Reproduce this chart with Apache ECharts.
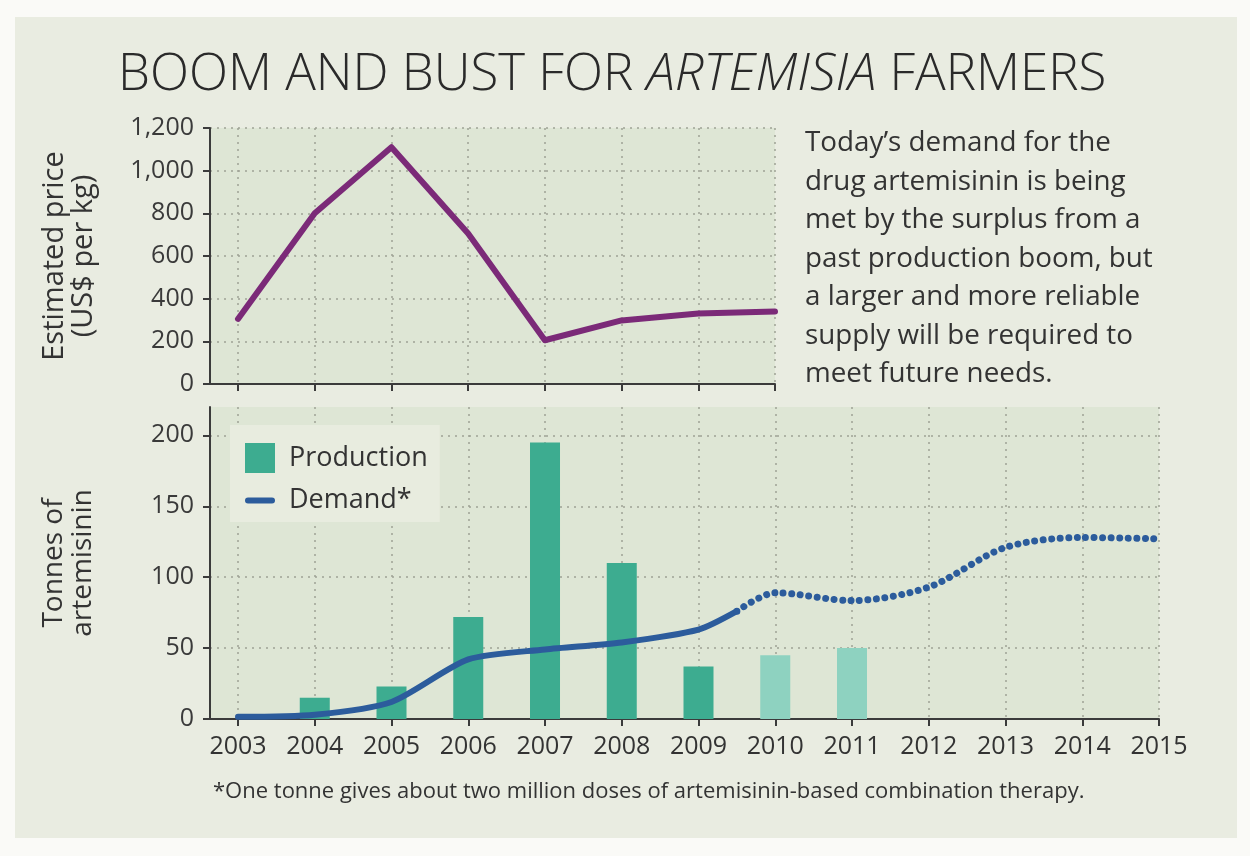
<!DOCTYPE html>
<html><head><meta charset="utf-8">
<script src="https://cdn.jsdelivr.net/npm/echarts@6/dist/echarts.min.js"></script>
<style>html,body{margin:0;padding:0;background:#fafaf7;} #c{width:1250px;height:856px;}</style>
</head><body><div id="c"></div>
<script>
// ---- data ----
const priceYears = [2003, 2004, 2005, 2006, 2007, 2008, 2009, 2010];
const priceValues = [305, 800, 1110, 705, 205, 298, 330, 340];

const productionYears = [2004, 2005, 2006, 2007, 2008, 2009, 2010, 2011];
const productionValues = [15, 23, 72, 195, 110, 37, 45, 50];
const productionEstimatedFrom = 2010;

const demandYears = [2003, 2004, 2005, 2006, 2007, 2008, 2009, 2010, 2011, 2012, 2013, 2014, 2015];
const demandValues = [1.5, 3, 12, 42, 49, 54, 63, 89, 83.5, 93, 121, 128, 127];
const demandForecastStart = [2009.5, 76];

const priceTicks = [0, 200, 400, 600, 800, 1000, 1200];
const tonneTicks = [0, 50, 100, 150, 200];
const topYearTicks = [2003, 2004, 2005, 2006, 2007, 2008, 2009, 2010];
const yearTicks = [2003, 2004, 2005, 2006, 2007, 2008, 2009, 2010, 2011, 2012, 2013, 2014, 2015];

const titleParts = ['BOOM AND BUST FOR ', 'ARTEMISIA', ' FARMERS'];
const noteText = "Today\u2019s demand for the\ndrug artemisinin is being\nmet by the surplus from a\npast production boom, but\na larger and more reliable\nsupply will be required to\nmeet future needs.";
const footnote = '*One tonne gives about two million doses of artemisinin-based combination therapy.';

// ---- styling ----
const FONT = "'Open Sans', 'Noto Sans', sans-serif";
const TXT = '#333333';
const AXIS = '#3b3b3b';
const GRIDC = '#9ea395';
const PLOTBG = '#dee6d5';
const PANEL = '#e9ece1';
const PURPLE = '#7b2a78';
const TEAL = '#3dac90';
const TEAL_LIGHT = '#8ed2c0';
const BLUE = '#2c5c9c';
const X_MIN = 2002.635;

const chart = echarts.init(document.getElementById('c'));

const splitDotted = { show: true, lineStyle: { color: GRIDC, width: 1.5, type: [2, 5] } };

const demandSolid = [];
const demandDotted = [demandForecastStart];
demandYears.forEach((y, i) => {
  if (y < demandForecastStart[0]) demandSolid.push([y, demandValues[i]]);
  else demandDotted.push([y, demandValues[i]]);
});
demandSolid.push(demandForecastStart);

const productionData = productionYears.map((y, i) => ({
  value: [y, productionValues[i]],
  itemStyle: { color: y >= productionEstimatedFrom ? TEAL_LIGHT : TEAL }
}));

chart.setOption({
  backgroundColor: '#fafaf7',
  animation: false,
  graphic: [
    { type: 'rect', left: 15, top: 17, shape: { width: 1222, height: 821 }, style: { fill: PANEL }, z: -10 },
    { type: 'text', left: 805, top: 124, style: { text: noteText, font: "400 27.8px " + FONT, fill: TXT, lineHeight: 38.5 } },
    { type: 'text', left: 213, top: 781, style: { text: footnote, font: "400 22px " + FONT, fill: TXT } }
  ],
  title: {
    left: 113, top: 45,
    text: '{a|' + titleParts[0] + '}{b|' + titleParts[1] + '}{a|' + titleParts[2] + '}',
    textStyle: {
      rich: {
        a: { fontFamily: FONT, fontSize: 51, fontWeight: 300, color: '#2a2a2a' },
        b: { fontFamily: FONT, fontSize: 51, fontWeight: 300, fontStyle: 'italic', color: '#2a2a2a' }
      }
    }
  },
  legend: {
    left: 230, top: 425, orient: 'vertical',
    backgroundColor: '#e8ecdf', padding: [18, 12, 8, 15],
    itemWidth: 30, itemHeight: 30, itemGap: 14,
    textStyle: { fontFamily: FONT, fontSize: 27, color: TXT, padding: [0, 0, 0, 9] },
    data: [
      { name: 'Production', icon: 'rect' },
      { name: 'Demand*', icon: 'path://M3,0 H27 A3,3 0 0 1 27,6 H3 A3,3 0 0 1 3,0 Z' }
    ]
  },
  grid: [
    { left: 210, top: 128, width: 565, height: 256, show: true, backgroundColor: PLOTBG, borderWidth: 0 },
    { left: 210, top: 407, width: 949, height: 312, show: true, backgroundColor: PLOTBG, borderWidth: 0 }
  ],
  xAxis: [
    {
      type: 'value', gridIndex: 0, min: X_MIN, max: 2010,
      axisLine: { lineStyle: { color: AXIS, width: 2 } },
      axisTick: { show: true, length: 7, customValues: topYearTicks, lineStyle: { color: AXIS, width: 2 } },
      axisLabel: { show: false, customValues: topYearTicks },
      splitLine: splitDotted
    },
    {
      type: 'value', gridIndex: 1, min: X_MIN, max: 2015,
      axisLine: { lineStyle: { color: AXIS, width: 2 } },
      axisTick: { show: true, length: 7, customValues: yearTicks, lineStyle: { color: AXIS, width: 2 } },
      axisLabel: { customValues: yearTicks, margin: 15, fontFamily: FONT, fontSize: 25, color: TXT, formatter: v => String(v) },
      splitLine: splitDotted
    }
  ],
  yAxis: [
    {
      type: 'value', gridIndex: 0, min: 0, max: 1200,
      name: 'Estimated price\n(US$ per kg)', nameLocation: 'middle', nameGap: 112, nameRotate: 90,
      nameTextStyle: { fontFamily: FONT, fontSize: 29, color: TXT, lineHeight: 29 },
      axisLine: { show: true, lineStyle: { color: AXIS, width: 2 } },
      axisTick: { show: true, length: 7, customValues: priceTicks, lineStyle: { color: AXIS, width: 2 } },
      axisLabel: { customValues: priceTicks, margin: 16, fontFamily: FONT, fontSize: 25, color: '#3a3a3a',
        formatter: v => v.toLocaleString('en-US') },
      splitLine: splitDotted
    },
    {
      type: 'value', gridIndex: 1, min: 0, max: 220,
      name: 'Tonnes of\nartemisinin', nameLocation: 'middle', nameGap: 112, nameRotate: 90,
      nameTextStyle: { fontFamily: FONT, fontSize: 28, color: TXT, lineHeight: 29 },
      axisLine: { show: true, lineStyle: { color: AXIS, width: 2 } },
      axisTick: { show: true, length: 7, customValues: tonneTicks, lineStyle: { color: AXIS, width: 2 } },
      axisLabel: { customValues: tonneTicks, margin: 16, fontFamily: FONT, fontSize: 25, color: '#3a3a3a' },
      splitLine: splitDotted
    }
  ],
  series: [
    {
      name: 'Price', type: 'line', xAxisIndex: 0, yAxisIndex: 0,
      data: priceYears.map((y, i) => [y, priceValues[i]]),
      symbol: 'none', lineStyle: { color: PURPLE, width: 6, join: 'round', cap: 'round' }, z: 5
    },
    {
      name: 'Production', type: 'bar', xAxisIndex: 1, yAxisIndex: 1,
      data: productionData, barWidth: 30, itemStyle: { color: TEAL }, z: 2
    },
    {
      name: 'Demand*', type: 'line', xAxisIndex: 1, yAxisIndex: 1,
      data: demandSolid, smooth: 0.25, symbol: 'none', color: BLUE,
      lineStyle: { color: BLUE, width: 6, cap: 'round', join: 'round' }, z: 5
    },
    {
      name: 'Demand*', type: 'line', xAxisIndex: 1, yAxisIndex: 1,
      data: demandDotted, smooth: 0.3, symbol: 'none', color: BLUE,
      lineStyle: { color: BLUE, width: 7, type: [0.01, 8.5], cap: 'round' }, z: 5
    }
  ]
});
</script></body></html>
